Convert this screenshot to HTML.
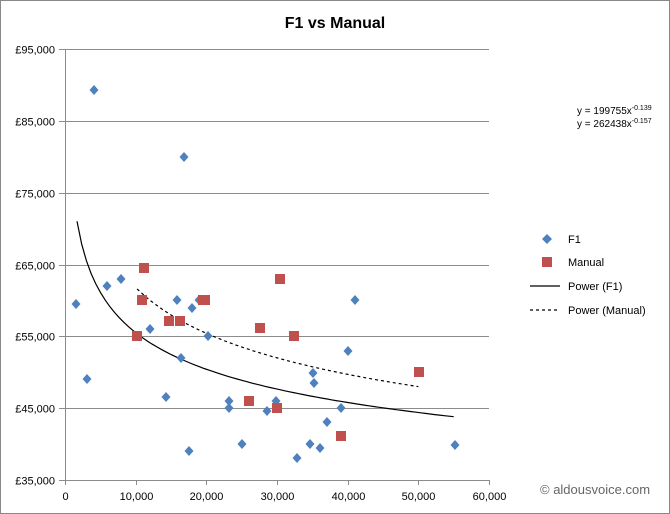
<!DOCTYPE html>
<html><head><meta charset="utf-8"><style>
html,body{margin:0;padding:0;background:#fff}
svg{display:block;font-family:"Liberation Sans",Arial,sans-serif}
</style></head><body>
<svg id="s" width="670" height="514" viewBox="0 0 670 514">
<rect x="0.5" y="0.5" width="669" height="513" fill="#fff" stroke="#888"/>
<text x="335" y="28" text-anchor="middle" font-size="16" font-weight="bold">F1 vs Manual</text>
<g id="grid" stroke="#8c8c8c" stroke-width="1"></g>
<g id="lab" font-size="11" fill="#000"></g>
<path id="pf1" fill="none" stroke="#000" stroke-width="1.2"/>
<path id="pm" fill="none" stroke="#000" stroke-width="1.2" stroke-dasharray="3,3"/>
<g id="pts"></g>
<text x="577" y="114" font-size="10">y = 199755x<tspan font-size="7" dy="-4">-0.139</tspan></text>
<text x="577" y="127" font-size="10">y = 262438x<tspan font-size="7" dy="-4">-0.157</tspan></text>
<g font-size="11">
<path d="M547,234 L552,239 L547,244 L542,239Z" fill="#4f81bd"/>
<text x="568" y="243">F1</text>
<rect x="542" y="257" width="10" height="10" fill="#c0504d"/>
<text x="568" y="266">Manual</text>
<line x1="530" y1="286" x2="560" y2="286" stroke="#000" stroke-width="1.2"/>
<text x="568" y="290">Power (F1)</text>
<line x1="530" y1="310" x2="560" y2="310" stroke="#000" stroke-width="1.2" stroke-dasharray="3,3"/>
<text x="568" y="314">Power (Manual)</text>
</g>
<text x="540" y="494" font-size="13" fill="#666">© aldousvoice.com</text>
</svg>
<script>
var NS="http://www.w3.org/2000/svg";
function X(v){return 65+v/60000*424}
function Y(v){return 480-(v-35000)/10000*71.8}
function el(p,t,a,txt){var e=document.createElementNS(NS,t);for(var k in a)e.setAttribute(k,a[k]);if(txt)e.textContent=txt;document.getElementById(p).appendChild(e);return e}
for(var v=35000;v<=95000;v+=10000){var y=Math.round(Y(v))+0.5;el("grid","line",{x1:59,x2:489,y1:y,y2:y});
el("lab","text",{x:55,y:y+4,"text-anchor":"end"},"£"+(v/1000)+",000");}
el("grid","line",{x1:65.5,x2:65.5,y1:49,y2:480});
for(var v=0;v<=60000;v+=10000){var x=Math.round(X(v))+0.5;el("grid","line",{x1:x,x2:x,y1:480,y2:485});
el("lab","text",{x:x,y:500,"text-anchor":"middle"},v==0?"0":(v/1000)+",000");}
function pw(a,b,x0,x1){var d="";for(var i=0;i<=80;i++){var x=x0+(x1-x0)*i/80;d+=(i?"L":"M")+X(x).toFixed(1)+","+Y(a*Math.pow(x,b)).toFixed(1)}return d}
document.getElementById("pf1").setAttribute("d",pw(199755,-0.139,1700,55000));
document.getElementById("pm").setAttribute("d",pw(262438,-0.157,10200,50000));
var f=[[76,304],[87,379],[94,90],[107,286],[121,279],[150,329],[166,397],[177,300],[181,358],[184,157],[189,451],[192,308],[199,300],[208,336],[229,401],[229,408],[242,444],[267,411],[276,401],[297,458],[310,444],[313,373],[314,383],[320,448],[327,422],[341,408],[348,351],[355,300],[455,445]];
var m=[[137,336],[142,300],[144,268],[169,321],[180,321],[203,300],[205,300],[249,401],[260,328],[277,408],[280,279],[294,336],[341,436],[419,372]];
f.forEach(function(p){el("pts","path",{d:"M"+p[0]+","+(p[1]-5)+" L"+(p[0]+4.5)+","+p[1]+" L"+p[0]+","+(p[1]+5)+" L"+(p[0]-4.5)+","+p[1]+"Z",fill:"#4f81bd"})});
m.forEach(function(p){el("pts","rect",{x:p[0]-5,y:p[1]-5,width:10,height:10,fill:"#c0504d"})});
</script>
</body></html>
